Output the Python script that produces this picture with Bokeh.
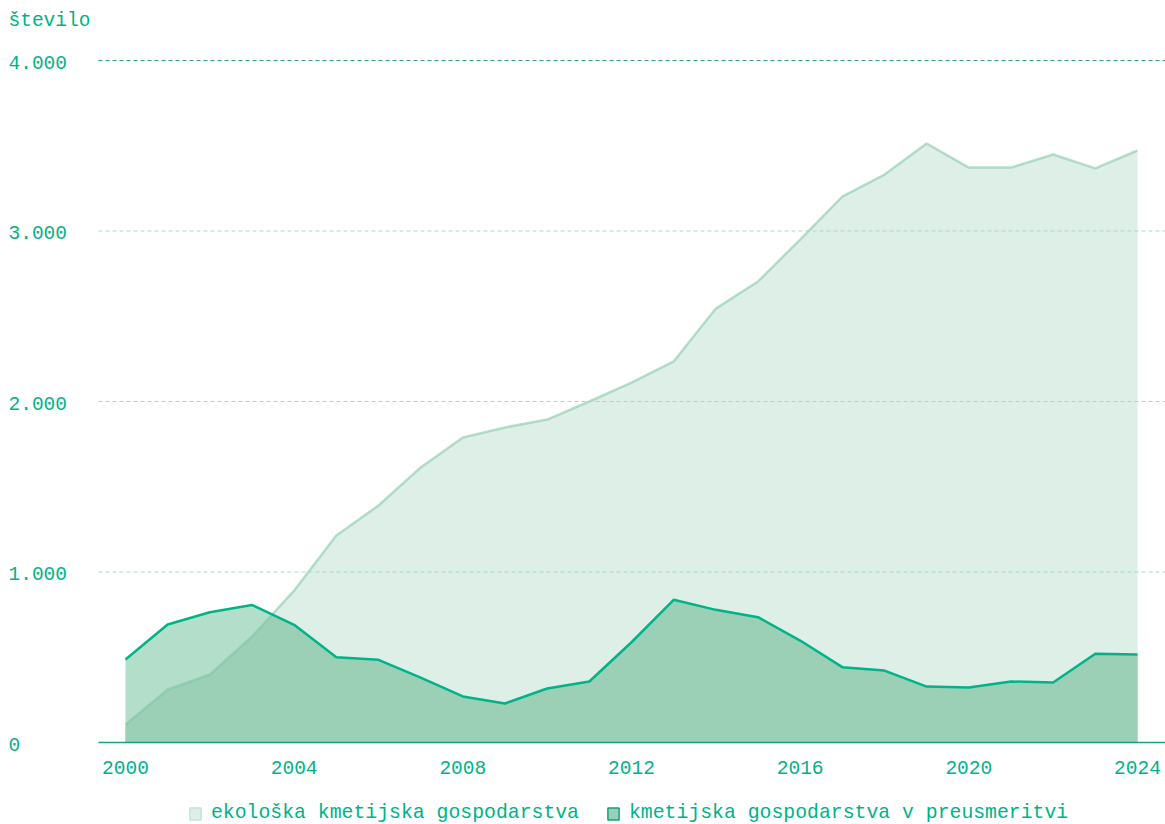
from bokeh.plotting import figure
from bokeh.layouts import column
from bokeh.models import Range1d, FixedTicker, Label, Legend, LegendItem
from bokeh.embed import file_html
from bokeh.resources import INLINE

# ---- data ----
years = list(range(2000, 2025))
ekoloska = [106, 311, 399, 622, 891, 1214, 1390, 1613, 1789, 1848, 1894, 2000, 2111,
            2235, 2545, 2704, 2950, 3202, 3331, 3513, 3372, 3372, 3449, 3367, 3472]
preusmeritev = [487, 692, 764, 807, 690, 500, 485, 381, 270, 229, 317, 358, 588,
                837, 778, 735, 598, 442, 422, 328, 323, 358, 352, 520, 516]
y_ticks = [0, 1000, 2000, 3000, 4000]
y_labels = ["0", "1.000", "2.000", "3.000", "4.000"]
x_ticks = [2000, 2004, 2008, 2012, 2016, 2020, 2024]
series_names = ["ekološka kmetijska gospodarstva", "kmetijska gospodarstva v preusmeritvi"]
y_title = "število"

# ---- styles / layout ----
FONT = "Liberation Mono"
FSIZE = "19.5px"
LEG_FSIZE = "19.8px"
TEXT = "#00b288"
LIGHT_FILL = "#deefe8"
DARK_FILL = "#b3dfca"
OVERLAP_FILL = "#9bcfb6"
ECO_LINE = "#7bc6a3"
TRANS_LINE = "#00b388"
AXIS_COLOR = "#12a47e"
X_START, X_END = 1997.0356, 2024.664   # frame spans whole width
PLOT_LEFT = 1999.36                    # where grid / axis line begin
Y_START, Y_END = -76.25, 4351.9
NAN = float("nan")

# overlap polygon (min of both series, with crossing points)
ov_x, ov_y = [], []
n = len(years)
for i in range(n):
    ov_x.append(years[i]); ov_y.append(min(ekoloska[i], preusmeritev[i]))
    if i < n - 1:
        d0 = ekoloska[i] - preusmeritev[i]
        d1 = ekoloska[i + 1] - preusmeritev[i + 1]
        if d0 * d1 < 0:
            f = d0 / (d0 - d1)
            ov_x.append(years[i] + f)
            ov_y.append(ekoloska[i] + f * (ekoloska[i + 1] - ekoloska[i]))

p = figure(width=1165, height=800, output_backend="svg", toolbar_location=None,
           x_range=Range1d(X_START, X_END), y_range=Range1d(Y_START, Y_END),
           y_axis_location=None, min_border_left=0, min_border_right=0,
           min_border_top=0, min_border_bottom=45)
p.outline_line_color = None
p.xgrid.visible = False
p.ygrid.visible = False

zeros = [0] * n
p.varea(x=years, y1=zeros, y2=ekoloska, fill_color=LIGHT_FILL)
p.varea(x=years, y1=zeros, y2=preusmeritev, fill_color=DARK_FILL)
p.varea(x=ov_x, y1=[0] * len(ov_x), y2=ov_y, fill_color=OVERLAP_FILL)
p.line(years, ekoloska, line_color=ECO_LINE, line_alpha=0.55, line_width=2.5)
p.line(years, preusmeritev, line_color=TRANS_LINE, line_width=2.5)

# grid lines (start at plot-area left)
grid_vals = y_ticks[1:]
grid_colors = ["#2fa384" if t == y_ticks[-1] else "#a9d8c3" for t in grid_vals]
p.segment(x0=[PLOT_LEFT] * len(grid_vals), x1=[X_END] * len(grid_vals),
          y0=grid_vals, y1=grid_vals, line_color=grid_colors, line_width=1,
          line_dash="4 3")
# baseline / axis line
p.segment(x0=[PLOT_LEFT], x1=[X_END], y0=[0], y1=[0], line_color=AXIS_COLOR,
          line_width=1.5)

# x axis (labels only)
p.xaxis.ticker = FixedTicker(ticks=x_ticks)
p.xaxis.axis_line_color = None
p.xaxis.major_tick_line_color = None
p.xaxis.minor_tick_line_color = None
p.xaxis.major_tick_out = 0
p.xaxis.major_label_standoff = 5
p.xaxis.major_label_text_font = FONT
p.xaxis.major_label_text_font_size = FSIZE
p.xaxis.major_label_text_color = TEXT

# y labels, left aligned at the left edge
for t, lab in zip(y_ticks, y_labels):
    p.add_layout(Label(x=8, x_units="screen", y=t, text=lab, text_align="left",
                       text_baseline="middle", text_font=FONT, text_font_size=FSIZE,
                       text_color=TEXT, y_offset=-2))
p.add_layout(Label(x=8, x_units="screen", y=735, y_units="screen", text=y_title,
                   text_align="left", text_baseline="middle", text_font=FONT,
                   text_font_size=FSIZE, text_color=TEXT))

# legend strip
lg = figure(width=1165, height=24, output_backend="svg", toolbar_location=None,
            x_range=Range1d(0, 1), y_range=Range1d(0, 1),
            x_axis_location=None, y_axis_location=None,
            min_border_left=0, min_border_right=0, min_border_top=0, min_border_bottom=0)
lg.outline_line_color = None
lg.xgrid.visible = False
lg.ygrid.visible = False
r1 = lg.quad(left=[NAN], right=[NAN], top=[NAN], bottom=[NAN], fill_color=LIGHT_FILL,
             line_color="#c2e4d5", line_width=1.5)
r2 = lg.quad(left=[NAN], right=[NAN], top=[NAN], bottom=[NAN], fill_color=OVERLAP_FILL,
             line_color=AXIS_COLOR, line_width=1.5)
legend = Legend(items=[LegendItem(label=series_names[0], renderers=[r1]),
                       LegendItem(label=series_names[1], renderers=[r2])],
                location=(188, 0), orientation="horizontal",
                glyph_width=14, glyph_height=15, label_standoff=9, spacing=27,
                padding=0, margin=0, border_line_color=None, background_fill_alpha=0,
                label_text_font=FONT, label_text_font_size=LEG_FSIZE,
                label_text_color=TEXT)
lg.add_layout(legend, "center")

open("out.html", "w").write(file_html(column(p, lg, spacing=0), INLINE))
